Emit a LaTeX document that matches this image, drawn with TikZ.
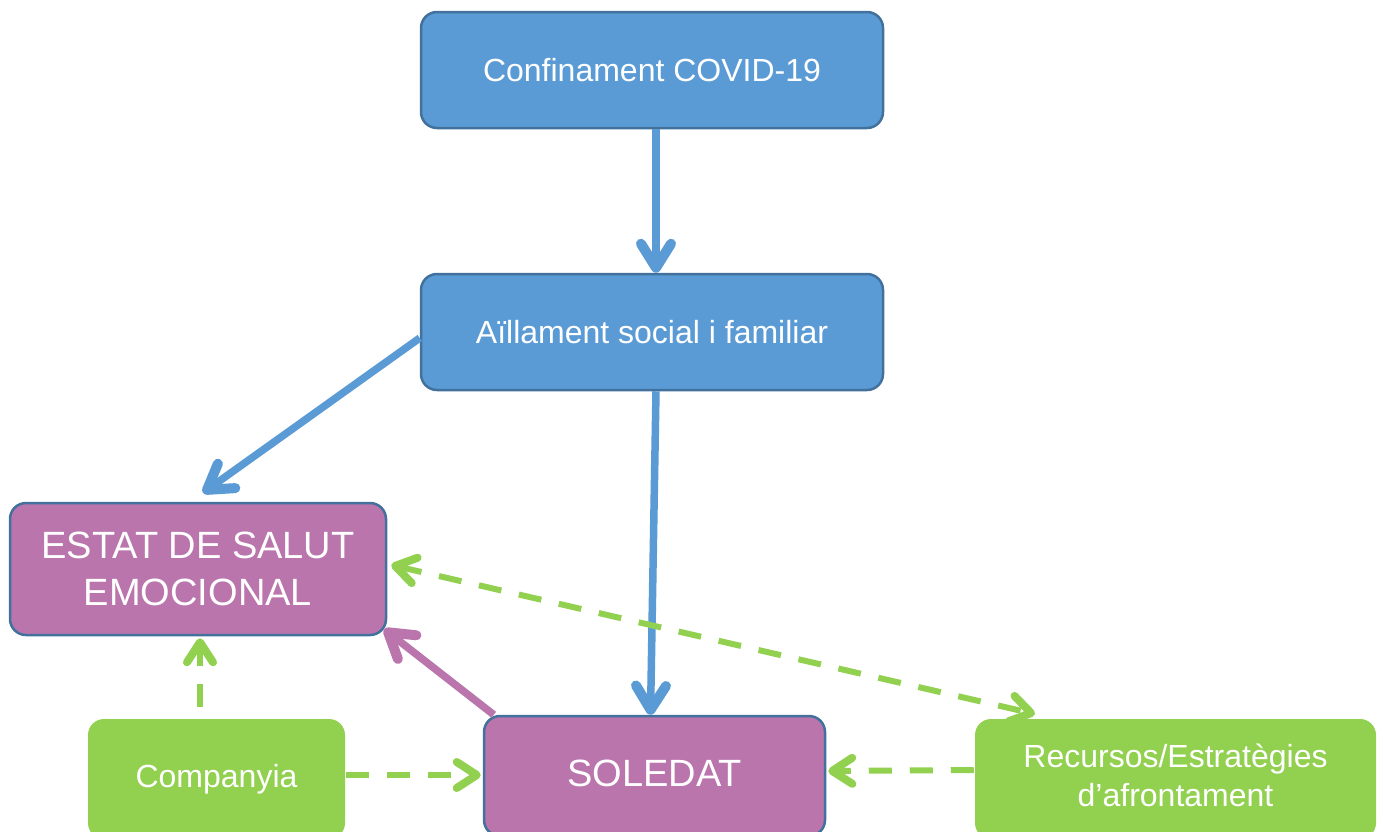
\documentclass[tikz,border=0pt]{standalone}
\usepackage{fontspec}
\setmainfont{Liberation Sans}
\usetikzlibrary{arrows.meta}
\definecolor{bfill}{HTML}{5B9BD5}
\definecolor{bdraw}{HTML}{41719C}
\definecolor{pfill}{HTML}{BA75AD}
\definecolor{gfill}{HTML}{92D050}
\begin{document}
\begin{tikzpicture}[x=1pt,y=-1pt,
  box/.style={rounded corners=16pt, line width=2.5pt, text=white, align=center, inner sep=0pt},
  bluebox/.style={box, fill=bfill, draw=bdraw, font=\fontsize{32}{37}\selectfont},
  purplebox/.style={box, fill=pfill, draw=bdraw, font=\fontsize{38}{47}\selectfont},
  greenbox/.style={box, fill=gfill, draw=none, font=\fontsize{32}{40}\selectfont},
  bluearrow/.style={line width=7.5pt, draw=bfill, -{Straight Barb[length=24pt,width=30pt,line width=10pt,round]}},
  purplearrow/.style={line width=7.5pt, draw=pfill, -{Straight Barb[length=24pt,width=30pt,line width=10pt,round]}},
  greenarrow/.style={line width=6pt, draw=gfill, dash pattern=on 23pt off 18pt, -{Straight Barb[length=20pt,width=26pt,line width=8pt,round]}},
  greenboth/.style={line width=6pt, draw=gfill, dash pattern=on 23pt off 18pt, {Straight Barb[length=20pt,width=26pt,line width=8pt,round]}-{Straight Barb[length=20pt,width=26pt,line width=8pt,round]}}
]
\clip (0,0) rectangle (1384,831);
\fill[white] (0,0) rectangle (1384,831);

\node[bluebox, minimum width=462pt, minimum height=116pt] (conf) at (652,70) {Confinament COVID-19};
\node[bluebox, minimum width=462pt, minimum height=116pt] (ail) at (652,332) {Aïllament social i familiar};
\node[purplebox, minimum width=376pt, minimum height=132pt] (estat) at (198,569) {ESTAT DE SALUT\\EMOCIONAL};
\node[purplebox, minimum width=341pt, minimum height=120pt] (sol) at (654.5,776) {\raisebox{5pt}{SOLEDAT}};
\node[greenbox, minimum width=257pt, minimum height=120pt] (comp) at (216.5,779) {\raisebox{2pt}{Companyia}};
\node[greenbox, minimum width=401pt, minimum height=120pt] (rec) at (1175.5,779) {\raisebox{4pt}{\begin{tabular}{@{}c@{}}Recursos/Estratègies\\[-1pt]d’afrontament\end{tabular}}};

\coordinate (c1) at (200,707);
\coordinate (c2) at (1035,714);

\draw[bluearrow] ([xshift=4pt]conf.south) -- ([xshift=4pt]ail.north);
\draw[bluearrow] ([yshift=-6pt]ail.west) -- ([xshift=5pt,yshift=9pt]estat.north);
\draw[bluearrow] ([xshift=4pt]ail.south) -- ([xshift=-4pt]sol.north);
\draw[purplearrow] ([xshift=11pt]sol.north west) -- ([xshift=-3pt,yshift=7pt]estat.south east);

\draw[greenarrow] (c1) -- ([xshift=2pt,yshift=-2pt]estat.south);
\draw[greenarrow] ([yshift=4pt]comp.east) -- ([xshift=-2pt,yshift=1pt]sol.west);
\draw[greenarrow] ([yshift=9pt]rec.west) -- ([xshift=2pt,yshift=5pt]sol.east);
\draw[greenboth] ([xshift=4pt,yshift=4pt]estat.east) -- (c2);
\end{tikzpicture}
\end{document}
